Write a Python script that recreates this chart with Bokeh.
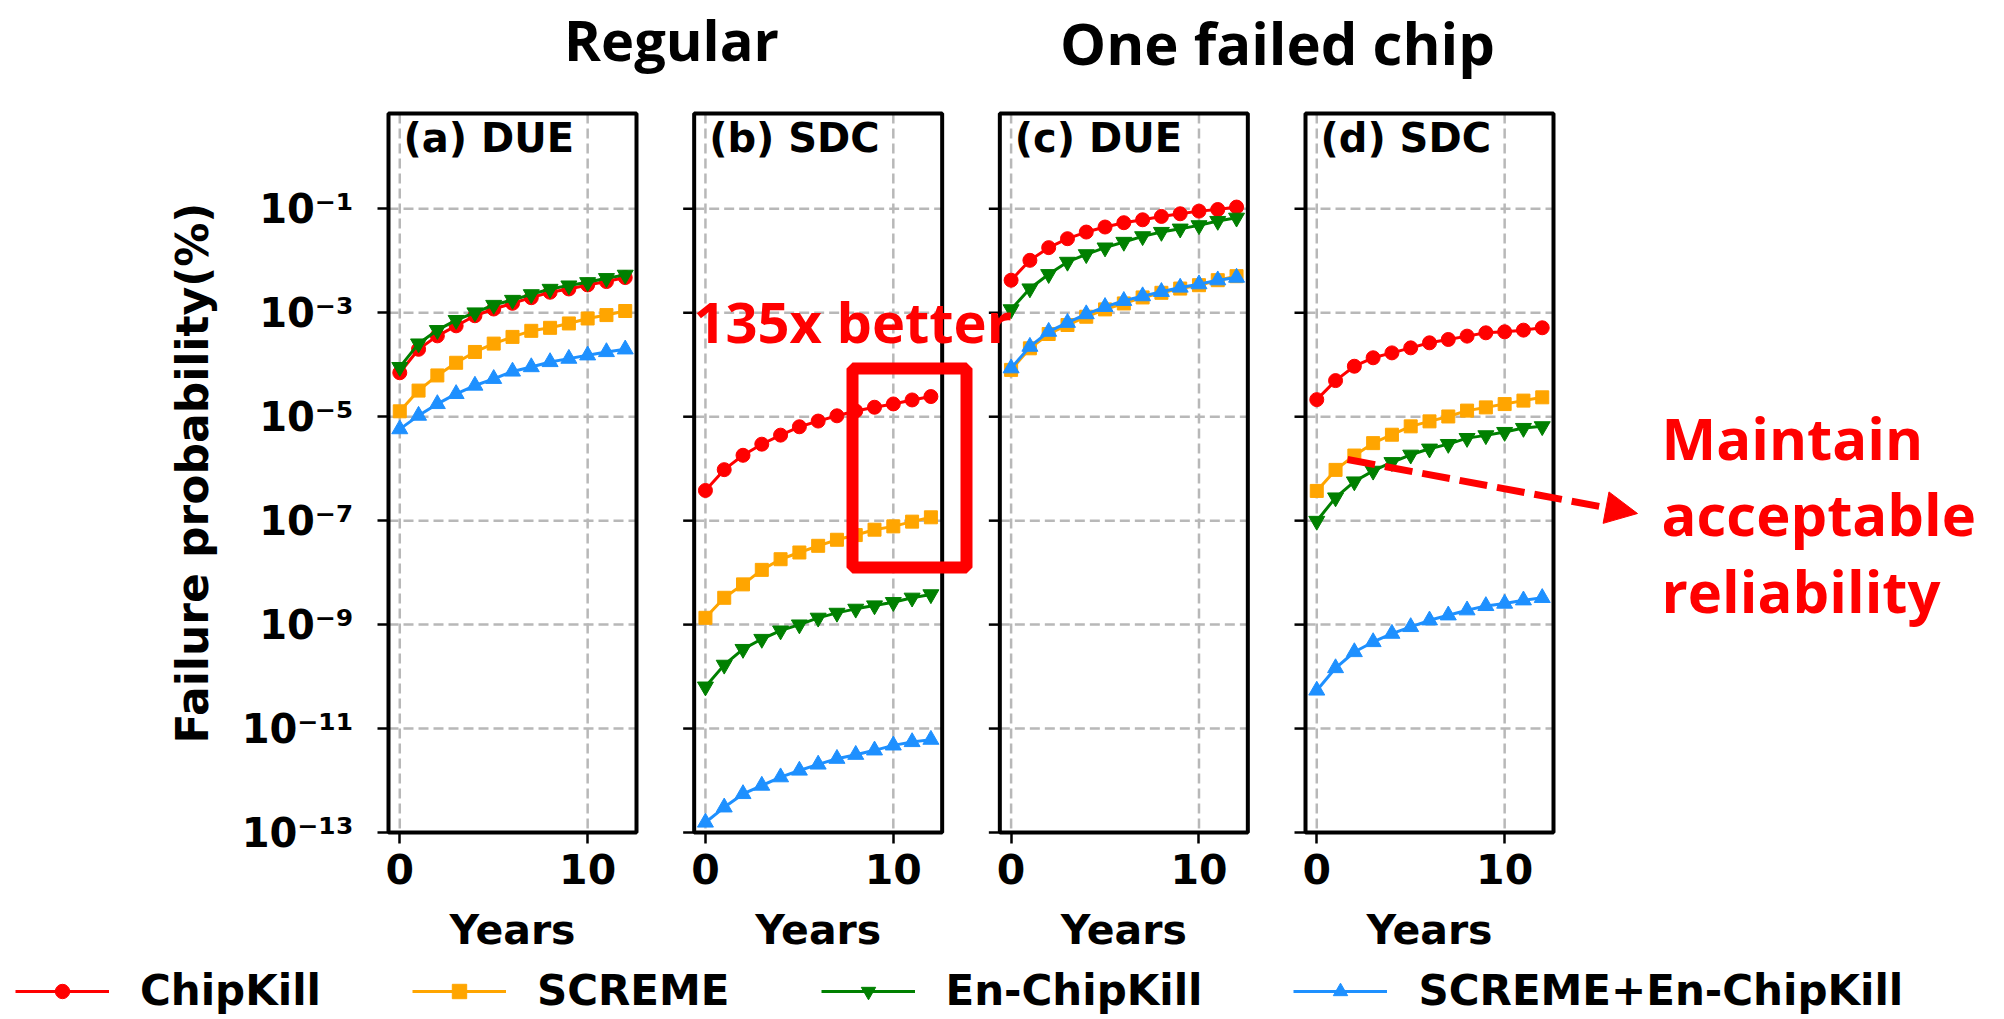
import math
from bokeh.plotting import figure
from bokeh.models import (Range1d, FixedTicker, CustomJSTickFormatter, Label, BoxAnnotation,
                          Legend, LegendItem, Arrow, NormalHead, ColumnDataSource, LinearScale)
from bokeh.transform import dodge
from bokeh.embed import file_html
from bokeh.resources import INLINE

# ---------------- data ----------------
years = [0, 1, 2, 3, 4, 5, 6, 7, 8, 9, 10, 11, 12]
series_names = ["ChipKill", "SCREME", "En-ChipKill", "SCREME+En-ChipKill"]
series_colors = ["#ff0000", "#ffa500", "#008000", "#1e90ff"]
series_markers = ["circle", "square", "inverted_triangle", "triangle"]

# (a) DUE - regular
a_chipkill = [7.0e-5, 1.98e-4, 3.59e-4, 5.60e-4, 8.75e-4, 1.18e-3, 1.52e-3, 1.95e-3, 2.48e-3, 2.87e-3, 3.43e-3, 3.98e-3, 4.75e-3]
a_screme = [1.27e-5, 3.18e-5, 6.22e-5, 1.09e-4, 1.76e-4, 2.55e-4, 3.43e-4, 4.49e-4, 5.13e-4, 6.22e-4, 7.76e-4, 9.02e-4, 1.08e-3]
a_enchipkill = [9.0e-5, 2.55e-4, 4.62e-4, 7.21e-4, 1.01e-3, 1.41e-3, 1.76e-3, 2.26e-3, 2.87e-3, 3.33e-3, 3.86e-3, 4.62e-3, 5.36e-3]
a_both = [5.77e-6, 1.05e-5, 1.76e-5, 2.75e-5, 3.98e-5, 5.36e-5, 7.43e-5, 9.02e-5, 1.13e-4, 1.31e-4, 1.52e-4, 1.76e-4, 1.98e-4]

# (b) SDC - regular
b_chipkill = [3.81e-7, 9.57e-7, 1.81e-6, 2.96e-6, 4.42e-6, 6.40e-6, 8.24e-6, 1.04e-5, 1.29e-5, 1.52e-5, 1.76e-5, 2.10e-5, 2.44e-5]
b_screme = [1.35e-9, 3.28e-9, 5.94e-9, 1.13e-8, 1.81e-8, 2.44e-8, 3.28e-8, 4.29e-8, 5.28e-8, 6.70e-8, 7.76e-8, 9.57e-8, 1.16e-7]
b_enchipkill = [6.40e-11, 1.68e-10, 3.38e-10, 5.28e-10, 7.66e-10, 1.0e-9, 1.35e-9, 1.68e-9, 2.01e-9, 2.33e-9, 2.70e-9, 3.28e-9, 3.81e-9]
b_both = [1.56e-13, 3.05e-13, 5.52e-13, 8.0e-13, 1.16e-12, 1.56e-12, 2.04e-12, 2.63e-12, 3.14e-12, 3.81e-12, 4.75e-12, 5.52e-12, 6.12e-12]

# (c) DUE - one failed chip
c_chipkill = [4.23e-3, 1.02e-2, 1.79e-2, 2.66e-2, 3.57e-2, 4.46e-2, 5.40e-2, 6.15e-2, 7.13e-2, 8.02e-2, 9.02e-2, 9.70e-2, 1.08e-1]
c_screme = [7.96e-5, 2.07e-4, 3.90e-4, 5.81e-4, 8.38e-4, 1.16e-3, 1.51e-3, 1.97e-3, 2.42e-3, 2.92e-3, 3.39e-3, 4.23e-3, 5.05e-3]
c_enchipkill = [1.16e-3, 2.92e-3, 5.51e-3, 9.51e-3, 1.33e-2, 1.79e-2, 2.30e-2, 2.95e-2, 3.57e-2, 4.14e-2, 4.80e-2, 5.81e-2, 6.71e-2]
c_both = [8.57e-5, 2.23e-4, 4.33e-4, 6.43e-4, 9.42e-4, 1.30e-3, 1.70e-3, 2.09e-3, 2.53e-3, 3.06e-3, 3.55e-3, 4.23e-3, 4.75e-3]

# (d) SDC - one failed chip
d_chipkill = [2.13e-5, 4.95e-5, 9.35e-5, 1.36e-4, 1.69e-4, 2.11e-4, 2.64e-4, 3.06e-4, 3.55e-4, 4.11e-4, 4.30e-4, 4.63e-4, 5.14e-4]
d_screme = [3.73e-7, 9.48e-7, 1.79e-6, 3.10e-6, 4.50e-6, 6.52e-6, 8.13e-6, 1.01e-5, 1.31e-5, 1.51e-5, 1.75e-5, 2.04e-5, 2.36e-5]
d_enchipkill = [9.86e-8, 2.78e-7, 5.65e-7, 9.08e-7, 1.33e-6, 1.85e-6, 2.42e-6, 2.97e-6, 3.87e-6, 4.37e-6, 5.06e-6, 6.04e-6, 6.52e-6]
d_both = [5.41e-11, 1.46e-10, 2.97e-10, 4.63e-10, 6.70e-10, 9.02e-10, 1.21e-9, 1.51e-9, 1.89e-9, 2.29e-9, 2.54e-9, 2.94e-9, 3.27e-9]

panel_labels = ["(a) DUE", "(b) SDC", "(c) DUE", "(d) SDC"]
group_titles = ["Regular", "One failed chip"]
y_ticks = [1e-13, 1e-11, 1e-9, 1e-7, 1e-5, 1e-3, 1e-1]
x_ticks = [0, 10]

panels_data = [
    [a_chipkill, a_screme, a_enchipkill, a_both],
    [b_chipkill, b_screme, b_enchipkill, b_both],
    [c_chipkill, c_screme, c_enchipkill, c_both],
    [d_chipkill, d_screme, d_enchipkill, d_both],
]

# ---------------- layout (page pixels; the plot frame covers the whole canvas) ----------------
W, H = 2000, 1015
PANEL_W = 248
PITCH = (1305 - 388) / 3
FRAME_LEFTS = [388 + k * PITCH for k in range(4)]
P_TOP, P_BOTTOM = 113, 832
X_LO, X_HI = -0.6, 12.6
PX_PER_YEAR = PANEL_W / (X_HI - X_LO)
SHIFT = PITCH / PX_PER_YEAR
DEC_PX = (832 - 208.3) / 12
MARKER_SIZES = [14, 13, 16, 16]
BOLD_FONT = "DejaVu Sans"
NOTE_FONT = "Open Sans"
RED = "#ff0000"
ANCHOR_K = 0.38          # label anchor sits this many em above the text baseline


def base(y, size):
    """Label y for a text whose baseline should be at page row y."""
    return y - ANCHOR_K * size


x_start = X_LO - FRAME_LEFTS[0] / PX_PER_YEAR
x_end = X_LO + (W - FRAME_LEFTS[0]) / PX_PER_YEAR
y_bot = 10 ** (-13 - (H - P_BOTTOM) / DEC_PX)
y_top = 10 ** (-13 + P_BOTTOM / DEC_PX)

p = figure(width=W, height=H,
           x_range=Range1d(x_start, x_end), y_range=Range1d(y_bot, y_top),
           y_axis_type="log", output_backend="svg", toolbar_location=None,
           min_border_left=0, min_border_right=0, min_border_top=0, min_border_bottom=0,
           outline_line_color=None, background_fill_color="white", border_fill_color="white")
p.extra_x_ranges = {"px": Range1d(0, W)}
p.extra_y_ranges = {"px": Range1d(H, 0)}
p.extra_x_scales = {"px": LinearScale()}
p.extra_y_scales = {"px": LinearScale()}
p.xgrid.visible = False
p.ygrid.visible = False

sup_code = """
const e = Math.round(Math.log10(tick));
const sup = {"-": "\u207b", "0": "\u2070", "1": "\u00b9", "2": "\u00b2", "3": "\u00b3",
             "4": "\u2074", "5": "\u2075", "6": "\u2076", "7": "\u2077", "8": "\u2078", "9": "\u2079"};
return "10" + String(e).split("").map(c => sup[c]).join("");
"""

# y axis of panel a, pinned to the panel's left edge
yax = p.yaxis[0]
yax.fixed_location = X_LO
yax.ticker = FixedTicker(ticks=y_ticks)
yax.formatter = CustomJSTickFormatter(code=sup_code)
yax.major_label_text_font_size = "40px"
yax.major_label_standoff = 24
yax.major_tick_out = 11

# x axis pinned to the panels' bottom edge, ticks of all four panels
xax = p.xaxis[0]
xax.fixed_location = y_ticks[0]
all_x_ticks = [k * SHIFT + t for k in range(4) for t in x_ticks]
xax.ticker = FixedTicker(ticks=all_x_ticks)
xax.formatter = CustomJSTickFormatter(
    args=dict(S=SHIFT),
    code="return String(Math.round(tick - S*Math.floor((tick + 1)/S)));")
xax.major_label_text_font_size = "41px"
xax.major_label_standoff = 10
xax.major_tick_out = 11
for ax in (xax, yax):
    ax.major_label_text_font = BOLD_FONT
    ax.major_label_text_font_style = "bold"
    ax.major_label_text_color = "black"
    ax.axis_line_color = None
    ax.major_tick_in = 0
    ax.major_tick_line_width = 2.5
    ax.major_tick_line_color = "black"
    ax.minor_tick_line_color = None

GRID = dict(line_color="#b8b8b8", line_width=2.5, line_dash="10 5")
# horizontal grid lines / y tick marks of panels b-d (x in pixels, y on log scale)
gx0, gx1, gy = [], [], []
tx0, tx1, ty = [], [], []
for k, left in enumerate(FRAME_LEFTS):
    for t in y_ticks:
        gx0.append(left); gx1.append(left + PANEL_W); gy.append(t)
        if k > 0:
            tx0.append(left - 11); tx1.append(left); ty.append(t)
p.segment(x0=gx0, x1=gx1, y0=gy, y1=gy, x_range_name="px", **GRID)
p.segment(x0=tx0, x1=tx1, y0=ty, y1=ty, x_range_name="px", line_color="black", line_width=2.5)
# vertical grid lines (x in years, y in pixels)
p.segment(x0=all_x_ticks, x1=all_x_ticks, y0=[P_TOP] * len(all_x_ticks), y1=[P_BOTTOM] * len(all_x_ticks),
          y_range_name="px", **GRID)

# data
legend_renderers = []
for k in range(4):
    for vals, color, marker, size in zip(panels_data[k], series_colors, series_markers, MARKER_SIZES):
        src = ColumnDataSource(dict(x=years, y=vals))
        xs = dodge("x", k * SHIFT)
        lr = p.line(x=xs, y="y", source=src, line_color=color, line_width=3)
        sr = p.scatter(x=xs, y="y", source=src, marker=marker, size=size,
                       fill_color=color, line_color=color)
        if k == 0:
            legend_renderers.append([lr, sr])

PXR = dict(x_range_name="px", y_range_name="px")

# panel boxes, labels and x-axis titles
for k, left in enumerate(FRAME_LEFTS):
    p.add_layout(BoxAnnotation(left=left, right=left + PANEL_W, top=P_TOP, bottom=P_BOTTOM, **PXR,
                               fill_color=None, line_color="black", line_alpha=1.0, line_width=4))
    p.add_layout(Label(x=left + 15, y=base(153, 40), text=panel_labels[k], **PXR,
                       text_font=BOLD_FONT, text_font_style="bold", text_font_size="40px",
                       text_color="black", text_baseline="alphabetic"))
    p.add_layout(Label(x=left + PANEL_W / 2, y=base(945, 41), text="Years", **PXR,
                       text_font=BOLD_FONT, text_font_style="bold", text_font_size="41px",
                       text_color="black", text_align="center", text_baseline="alphabetic"))

# y-axis title (rotated; baseline on the right-hand side)
p.add_layout(Label(x=209 - ANCHOR_K * 44, y=(P_TOP + P_BOTTOM) / 2, text="Failure probability(%)",
                   angle=math.pi / 2, **PXR,
                   text_font=BOLD_FONT, text_font_style="bold", text_font_size="44px",
                   text_color="black", text_align="center", text_baseline="alphabetic"))

# group titles
for txt, (cx, by, fs) in zip(group_titles, [(671, 60, 56), (1277, 64, 58)]):
    p.add_layout(Label(x=cx, y=base(by, fs), text=txt, **PXR,
                       text_font=NOTE_FONT, text_font_style="bold", text_font_size=f"{fs}px",
                       text_color="black", text_align="center", text_baseline="alphabetic"))

# "135x better" with highlight box
p.add_layout(Label(x=693, y=base(342, 56), text="135x better", **PXR,
                   text_font=NOTE_FONT, text_font_style="bold", text_font_size="56px",
                   text_color=RED, text_baseline="alphabetic"))
p.add_layout(BoxAnnotation(left=852, right=966, top=368, bottom=567, **PXR,
                           fill_color=None, line_color=RED, line_alpha=1.0, line_width=12))

# dashed arrow and right-hand note
p.add_layout(Arrow(end=NormalHead(size=32, fill_color=RED, line_color=RED, line_width=1),
                   x_start=1347, y_start=459, x_end=1637, y_end=513, **PXR,
                   line_color=RED, line_width=7, line_dash="28 10"))
for txt, bl in zip(["Maintain", "acceptable", "reliability"], [459, 535, 612]):
    p.add_layout(Label(x=1661, y=base(bl, 57), text=txt, **PXR,
                       text_font=NOTE_FONT, text_font_style="bold", text_font_size="58px",
                       text_color=RED, text_baseline="alphabetic"))

# legend across the bottom
LEG_H = 50
legend = Legend(
    items=[LegendItem(label=n, renderers=r) for n, r in zip(series_names, legend_renderers)],
    location=(15, H - 990 - LEG_H / 2),
    orientation="horizontal", glyph_width=94, glyph_height=36, label_standoff=31,
    spacing=91, padding=0, margin=0, border_line_color=None, background_fill_alpha=0,
    label_text_font=BOLD_FONT, label_text_font_style="bold", label_text_font_size="42px",
    label_text_color="black", label_height=36)
p.add_layout(legend)

open("out.html", "w").write(file_html(p, INLINE))
